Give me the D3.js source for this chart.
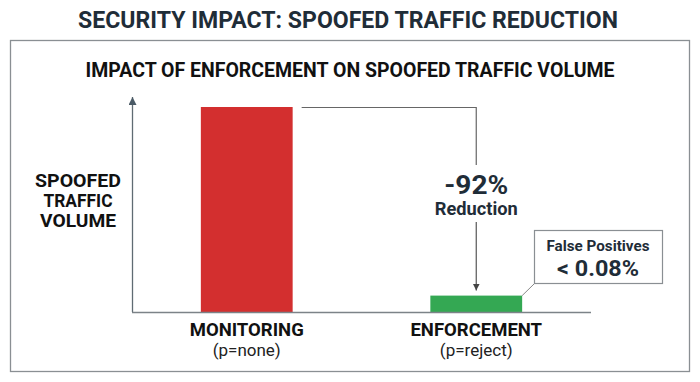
<!DOCTYPE html>
<html>
<head>
<meta charset="utf-8">
<script src="https://cdn.jsdelivr.net/npm/d3@7"></script>
<style>
  body { margin: 0; background: #fff; }
  text { font-family: Roboto, "Liberation Sans", sans-serif; }
</style>
</head>
<body>
<div id="chart"></div>
<script>
// datos
const categories = ['MONITORING', 'ENFORCEMENT'];
const policies = ['(p=none)', '(p=reject)'];
const volumes = [100, 8];
const barColors = ['#d32f2f', '#34a853'];
const yLabelLines = ['SPOOFED', 'TRAFFIC', 'VOLUME'];
const yLabelWidths = [86, 69, 76];
const falsePositives = ['False Positives', '< 0.08%'];

const width = 700;
const height = 382;

const svg = d3.select('#chart')
  .append('svg')
  .attr('width', width)
  .attr('height', height);

// titulo
svg.append('text')
  .attr('x', 348)
  .attr('y', 28)
  .attr('text-anchor', 'middle')
  .attr('font-size', 23)
  .attr('font-weight', 700)
  .attr('fill', '#1f2d38')
  .attr('textLength', 540)
  .attr('lengthAdjust', 'spacingAndGlyphs')
  .text('SECURITY IMPACT: SPOOFED TRAFFIC REDUCTION');

// marco
svg.append('rect')
  .attr('x', 10.5)
  .attr('y', 40.5)
  .attr('width', 679)
  .attr('height', 331)
  .attr('fill', 'white')
  .attr('stroke', '#8a8f93')
  .attr('stroke-width', 1.3);

svg.append('text')
  .attr('x', 350)
  .attr('y', 77)
  .attr('text-anchor', 'middle')
  .attr('font-size', 19.5)
  .attr('font-weight', 700)
  .attr('fill', '#111')
  .attr('textLength', 529)
  .attr('lengthAdjust', 'spacingAndGlyphs')
  .text('IMPACT OF ENFORCEMENT ON SPOOFED TRAFFIC VOLUME');

// escalas
const x = d3.scaleBand()
  .domain(categories)
  .range([132, 591])
  .paddingInner(0.6)
  .paddingOuter(0.3);

const y = d3.scaleLinear()
  .domain([0, d3.max(volumes)])
  .range([312, 107]);

const defs = svg.append('defs');
defs.append('marker')
  .attr('id', 'arrow')
  .attr('viewBox', '0 0 10 10')
  .attr('refX', 10)
  .attr('refY', 5)
  .attr('markerWidth', 7)
  .attr('markerHeight', 7)
  .attr('markerUnits', 'userSpaceOnUse')
  .attr('orient', 'auto')
  .append('path')
  .attr('d', 'M0,0 L10,5 L0,10 z')
  .attr('fill', '#444');

defs.append('marker')
  .attr('id', 'axisArrow')
  .attr('viewBox', '0 0 10 10')
  .attr('refX', 10)
  .attr('refY', 5)
  .attr('markerWidth', 8)
  .attr('markerHeight', 8)
  .attr('markerUnits', 'userSpaceOnUse')
  .attr('orient', 'auto')
  .append('path')
  .attr('d', 'M0,0 L10,5 L0,10 z')
  .attr('fill', '#4a5a66');

// barras
svg.selectAll('.bar')
  .data(volumes)
  .enter()
  .append('rect')
  .attr('class', 'bar')
  .attr('x', (d, i) => x(categories[i]))
  .attr('y', d => y(d))
  .attr('width', x.bandwidth())
  .attr('height', d => y(0) - y(d))
  .attr('fill', (d, i) => barColors[i]);

// ejes
svg.append('line')
  .attr('x1', 132.5).attr('y1', y(0))
  .attr('x2', 132.5).attr('y2', 97)
  .attr('stroke', '#5f6b73')
  .attr('stroke-width', 1.3)
  .attr('marker-end', 'url(#axisArrow)');

svg.append('line')
  .attr('x1', 132).attr('y1', y(0) + 0.5)
  .attr('x2', 591).attr('y2', y(0) + 0.5)
  .attr('stroke', '#7c8388')
  .attr('stroke-width', 1.3);

// etiqueta eje y
yLabelLines.forEach((t, i) => {
  svg.append('text')
    .attr('x', 78)
    .attr('y', 187 + i * 20)
    .attr('text-anchor', 'middle')
    .attr('font-size', 17.5)
    .attr('font-weight', 700)
    .attr('fill', '#111')
    .attr('textLength', yLabelWidths[i])
    .attr('lengthAdjust', 'spacingAndGlyphs')
    .text(t);
});

// etiquetas eje x
categories.forEach((c, i) => {
  const cx = x(c) + x.bandwidth() / 2;
  svg.append('text')
    .attr('x', cx)
    .attr('y', 336)
    .attr('text-anchor', 'middle')
    .attr('font-size', 18.5)
    .attr('font-weight', 700)
    .attr('fill', '#111')
    .text(c);
  svg.append('text')
    .attr('x', cx)
    .attr('y', 356)
    .attr('text-anchor', 'middle')
    .attr('font-size', 17)
    .attr('fill', '#222')
    .text(policies[i]);
});

// conector de reduccion
const monRight = x(categories[0]) + x.bandwidth();
const enfCenter = x(categories[1]) + x.bandwidth() / 2;
const reduction = Math.round((volumes[1] - volumes[0]) / volumes[0] * 100);

svg.append('path')
  .attr('d', `M${monRight + 9},${y(volumes[0]) + 0.5} H${enfCenter} V165`)
  .attr('fill', 'none')
  .attr('stroke', '#666')
  .attr('stroke-width', 1.2);

svg.append('line')
  .attr('x1', enfCenter).attr('y1', 222)
  .attr('x2', enfCenter).attr('y2', y(volumes[1]) - 5)
  .attr('stroke', '#555')
  .attr('stroke-width', 1.2)
  .attr('marker-end', 'url(#arrow)');

svg.append('text')
  .attr('x', enfCenter)
  .attr('y', 194)
  .attr('text-anchor', 'middle')
  .attr('font-size', 25)
  .attr('font-weight', 700)
  .attr('fill', '#1f2d38')
  .attr('textLength', 64)
  .attr('lengthAdjust', 'spacingAndGlyphs')
  .text(`${reduction}%`);

svg.append('text')
  .attr('x', enfCenter)
  .attr('y', 215)
  .attr('text-anchor', 'middle')
  .attr('font-size', 18)
  .attr('font-weight', 700)
  .attr('fill', '#1f2d38')
  .attr('textLength', 83)
  .attr('lengthAdjust', 'spacingAndGlyphs')
  .text('Reduction');

// caja de falsos positivos
const enfRight = x(categories[1]) + x.bandwidth();
svg.append('line')
  .attr('x1', enfRight).attr('y1', y(volumes[1]))
  .attr('x2', 534).attr('y2', 284)
  .attr('stroke', '#888')
  .attr('stroke-width', 1);

svg.append('rect')
  .attr('x', 534.5)
  .attr('y', 230.5)
  .attr('width', 128)
  .attr('height', 53)
  .attr('fill', 'white')
  .attr('stroke', '#8a8f93')
  .attr('stroke-width', 1.2);

svg.append('text')
  .attr('x', 598)
  .attr('y', 251)
  .attr('text-anchor', 'middle')
  .attr('font-size', 15)
  .attr('font-weight', 700)
  .attr('fill', '#1f2d38')
  .attr('textLength', 103)
  .attr('lengthAdjust', 'spacingAndGlyphs')
  .text(falsePositives[0]);

svg.append('text')
  .attr('x', 598)
  .attr('y', 276)
  .attr('text-anchor', 'middle')
  .attr('font-size', 22)
  .attr('font-weight', 700)
  .attr('fill', '#1f2d38')
  .attr('textLength', 82)
  .attr('lengthAdjust', 'spacingAndGlyphs')
  .text(falsePositives[1]);
</script>
</body>
</html>
